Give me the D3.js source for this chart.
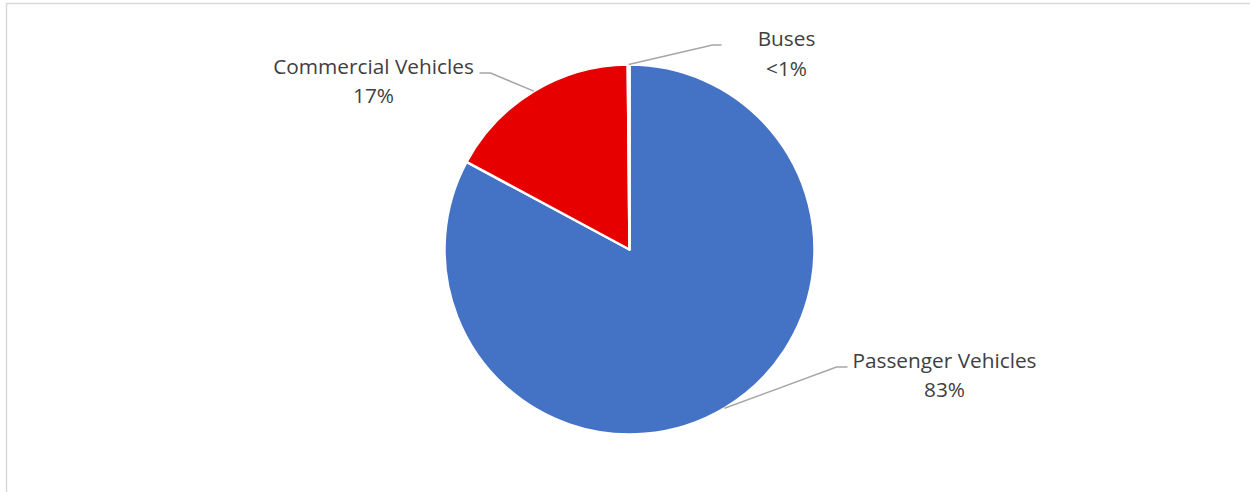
<!DOCTYPE html>
<html>
<head>
<meta charset="utf-8">
<script src="https://cdn.jsdelivr.net/npm/d3@7"></script>
<style>
  body { margin: 0; background: #fff; }
  svg { display: block; }
</style>
</head>
<body>
<svg id="chart" width="1250" height="492"></svg>
<script>
// data
const categories = ["Passenger Vehicles", "Commercial Vehicles", "Buses"];
const shares = [82.85, 17.0, 0.15];
const shareLabels = ["83%", "17%", "<1%"];
const colors = ["#4472c4", "#e60000", "#a5a5a5"];

const svg = d3.select("#chart");
const width = +svg.attr("width");
const height = +svg.attr("height");

// chart area border (only top and left visible)
svg.append("rect")
  .attr("x", 6.5).attr("y", 3.5)
  .attr("width", width + 20).attr("height", height + 20)
  .attr("fill", "none")
  .attr("stroke", "#d9d9d9")
  .attr("stroke-width", 1.5);

const cx = 629.5, cy = 249.5, radius = 185;

const data = categories.map((c, i) => ({ name: c, value: shares[i], label: shareLabels[i], color: colors[i] }));

const pie = d3.pie().sort(null).value(d => d.value);
const arc = d3.arc().innerRadius(0).outerRadius(radius);
const arcs = pie(data);

const g = svg.append("g").attr("transform", `translate(${cx},${cy})`);

g.selectAll("path")
  .data(arcs)
  .join("path")
  .attr("d", arc)
  .attr("fill", d => d.data.color)
  .attr("stroke", "#fff")
  .attr("stroke-width", 2.5)
  .attr("stroke-linejoin", "round");

// label layout: elbow point and text anchor (relative to the chart centre)
const labelLayout = {
  "Passenger Vehicles": { elbow: [207, 117.5], end: [218, 117.5], text: [315, 118] },
  "Commercial Vehicles": { elbow: [-139, -176.5], end: [-150, -176.5], text: [-256, -176] },
  "Buses": { elbow: [83, -204.5], end: [92, -204.5], text: [157, -203.5] }
};

const lines = g.append("g");
const labels = g.append("g");

arcs.forEach(d => {
  const mid = (d.startAngle + d.endAngle) / 2;
  const p0 = [radius * Math.sin(mid), -radius * Math.cos(mid)];
  const lay = labelLayout[d.data.name];
  lines.append("polyline")
    .attr("points", [p0, lay.elbow, lay.end].map(p => p.join(",")).join(" "))
    .attr("fill", "none")
    .attr("stroke", "#a6a6a6")
    .attr("stroke-width", 1.5);

  const t = labels.append("text")
    .attr("x", lay.text[0])
    .attr("y", lay.text[1])
    .attr("text-anchor", "middle")
    .attr("font-family", "'Open Sans', 'Noto Sans', sans-serif")
    .attr("font-size", "20.8px")
    .attr("fill", "#404040");
  t.append("tspan").attr("x", lay.text[0]).attr("dy", 0).text(d.data.name);
  t.append("tspan").attr("x", lay.text[0]).attr("dy", 29.5).text(d.data.label);
});
</script>
</body>
</html>
